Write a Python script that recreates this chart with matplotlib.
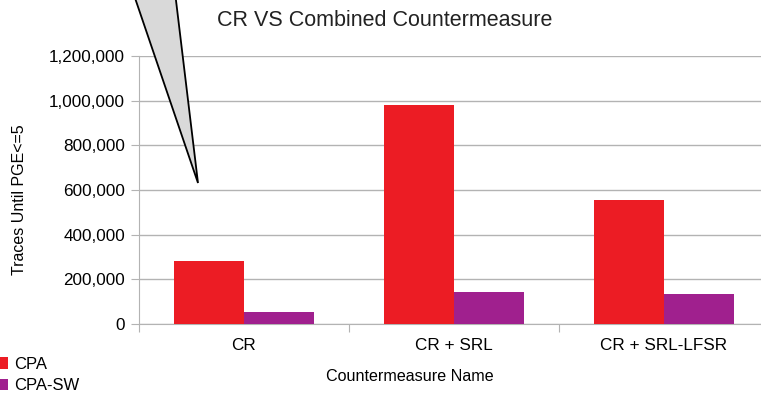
import matplotlib
matplotlib.use("Agg")
import matplotlib.pyplot as plt
import numpy as np
from matplotlib.patches import Polygon
from matplotlib.ticker import FuncFormatter

plt.rcParams['font.family'] = ['Liberation Sans', 'DejaVu Sans']

categories = ["CR", "CR + SRL", "CR + SRL-LFSR"]
cpa = [283000, 980000, 555000]
cpa_sw = [52000, 143000, 134000]
series_names = ["CPA", "CPA-SW"]
colors = ["#ec1c24", "#a0208e"]

W, H = 761, 394
fig = plt.figure(figsize=(W / 100, H / 100), dpi=100)
ax = fig.add_axes([139 / W, 1 - 324 / H, 630 / W, 268 / H])

x = np.arange(len(categories)) + 0.5
bw = 1 / 3
ax.bar(x - bw / 2, cpa, width=bw, color=colors[0], label=series_names[0], zorder=3)
ax.bar(x + bw / 2, cpa_sw, width=bw, color=colors[1], label=series_names[1], zorder=3)

ax.set_xlim(0, len(categories))
ax.set_ylim(0, 1200000)
ax.set_yticks(np.arange(0, 1200001, 200000))
ax.yaxis.set_major_formatter(FuncFormatter(lambda v, p: f"{int(v):,}"))
ax.set_xticks(np.arange(0, len(categories) + 1))
ax.set_xticklabels([])
ax.set_xticks(x, minor=True)
ax.set_xticklabels(categories, minor=True)
ax.tick_params(axis='x', which='minor', length=0, pad=10, labelsize=12.3)
ax.tick_params(axis='x', which='major', length=6, color='#b3b3b3')
ax.tick_params(axis='y', length=6, color='#b3b3b3', labelsize=12.3, pad=4)
ax.grid(axis='y', color='#b3b3b3', linewidth=1, zorder=0)
for s in ['top', 'right']:
    ax.spines[s].set_visible(False)
for s in ['left', 'bottom']:
    ax.spines[s].set_color('#b3b3b3')

ax.set_ylabel("Traces Until PGE<=5", fontsize=11.5)
ax.yaxis.set_label_coords((27 - 139) / 630, (324 - 200) / 268)
ax.set_xlabel("Countermeasure Name", fontsize=11.6)
ax.xaxis.set_label_coords((410 - 139) / 630, -45 / 268)

fig.text(385 / W, 1 - 20 / H, "CR VS Combined Countermeasure", ha='center', va='center',
         fontsize=15.5, color='#222222')

fig.legend(loc='upper left', bbox_to_anchor=(-4 / W, 1 - 357 / H), frameon=False,
           borderaxespad=0, borderpad=0,
           handlelength=0.7, handleheight=0.7, handletextpad=0.4, labelspacing=0.38, fontsize=12)

# Gray callout pointer at the top left
tri = Polygon([[133 / W, 1.02], [175 / W, 1.02], [198 / W, 1 - 183 / H]], closed=True,
              transform=fig.transFigure, facecolor='#d9d9d9', edgecolor='black', linewidth=1.3,
              zorder=10)
fig.add_artist(tri)

fig.savefig("out.png", dpi=100)
